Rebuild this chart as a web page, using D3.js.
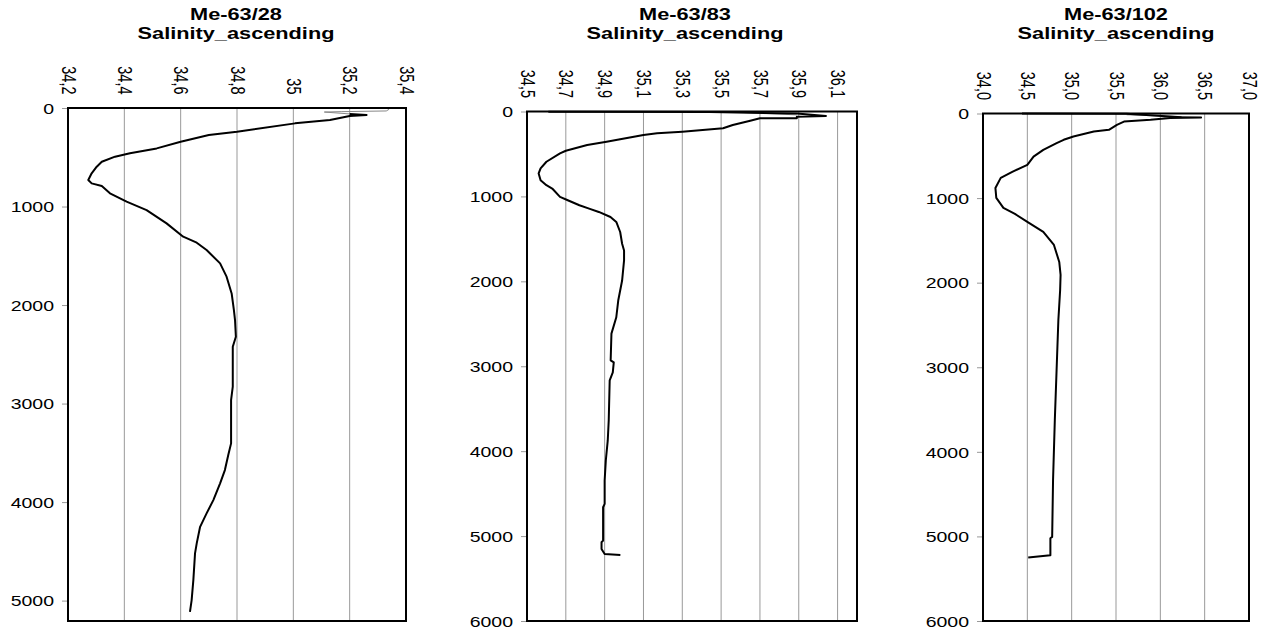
<!DOCTYPE html>
<html>
<head>
<meta charset="utf-8">
<script src="https://cdn.jsdelivr.net/npm/d3@7"></script>
<style>
  html, body { margin: 0; padding: 0; background: #fff; }
  svg { display: block; font-family: Arial, "Liberation Sans", sans-serif; }
</style>
</head>
<body>
<svg id="chart" width="1268" height="632"></svg>
<script>
// Station titles
const titles = ["Me-63/28", "Me-63/83", "Me-63/102"];
const subtitle = "Salinity_ascending";

// Salinity axis ticks (values and their printed labels)
const salTicks28 = [34.2, 34.4, 34.6, 34.8, 35.0, 35.2, 35.4];
const salLabels28 = ["34,2", "34,4", "34,6", "34,8", "35", "35,2", "35,4"];
const salTicks83 = [34.5, 34.7, 34.9, 35.1, 35.3, 35.5, 35.7, 35.9, 36.1];
const salLabels83 = ["34,5", "34,7", "34,9", "35,1", "35,3", "35,5", "35,7", "35,9", "36,1"];
const salTicks102 = [34.0, 34.5, 35.0, 35.5, 36.0, 36.5, 37.0];
const salLabels102 = ["34,0", "34,5", "35,0", "35,5", "36,0", "36,5", "37,0"];

// Depth axis ticks
const depthTicks28 = [0, 1000, 2000, 3000, 4000, 5000];
const depthTicks83 = [0, 1000, 2000, 3000, 4000, 5000, 6000];
const depthTicks102 = [0, 1000, 2000, 3000, 4000, 5000, 6000];

// Station Me-63/28 : near-surface start of the cast (thin grey) and the profile
const surfDepth28 = [13, 30, 37, 41, 60];
const surfSal28 = [35.34, 35.33, 35.17, 35.11, 35.20];
const depth28 = [60, 71, 81, 122, 156, 240, 274, 342, 410, 460, 494, 545, 596, 663, 731,
  765, 792, 866, 951, 1036, 1171, 1306, 1367, 1442, 1577, 1712, 1882, 2051, 2152, 2322,
  2423, 2829, 2964, 3404, 3523, 3675, 3810, 3980, 4115, 4251, 4419, 4521, 4792, 4995, 5114];
const sal28 = [35.20, 35.26, 35.20, 35.13, 35.006, 34.80, 34.70, 34.60, 34.515, 34.42, 34.367, 34.32, 34.302, 34.284, 34.272,
  34.284, 34.32, 34.349, 34.408, 34.479, 34.55, 34.609, 34.657, 34.692, 34.74, 34.763, 34.781, 34.789, 34.793, 34.796,
  34.785, 34.785, 34.779, 34.779, 34.769, 34.757, 34.74, 34.716, 34.692, 34.669, 34.657, 34.651, 34.645, 34.639, 34.633];

// Station Me-63/83
const surfDepth83 = [3, 10, 40];
const surfSal83 = [35.40, 35.60, 35.89];
const depth83 = [2, 6, 24, 47, 53, 61, 80, 80, 108, 159, 198, 238, 257, 277, 328,
  356, 395, 462, 493, 592, 670, 729, 809, 868, 907, 1006, 1045, 1104, 1144, 1183,
  1242, 1301, 1419, 1557, 1636, 1754, 1990, 2226, 2423, 2616, 2930, 2954, 3072, 3166, 3638,
  3874, 4110, 4346, 4620, 4660, 5053, 5073, 5151, 5210, 5222];
const sal83 = [34.61, 35.44, 35.89, 36.01, 36.04, 35.89, 35.89, 35.70, 35.65, 35.56, 35.51, 35.30, 35.17, 35.10, 34.98,
  34.91, 34.81, 34.70, 34.67, 34.60, 34.57, 34.56, 34.57, 34.60, 34.63, 34.67, 34.71, 34.77, 34.82, 34.87,
  34.93, 34.96, 34.98, 34.99, 35.00, 35.00, 34.99, 34.97, 34.96, 34.935, 34.931, 34.947, 34.942, 34.926, 34.921,
  34.916, 34.906, 34.90, 34.90, 34.892, 34.892, 34.884, 34.884, 34.90, 34.981];

// Station Me-63/102
const surfDepth102 = [15, 47];
const surfSal102 = [35.62, 36.46];
const depth102 = [0, 2, 43, 47, 54, 75, 95, 134, 193, 213, 272, 311, 350, 430, 509,
  607, 690, 761, 880, 998, 1116, 1187, 1282, 1400, 1554, 1755, 1909, 2086, 2441, 3033,
  3625, 4335, 5006, 5021, 5222, 5250];
const sal102 = [34.44, 35.62, 36.24, 36.46, 36.11, 35.89, 35.59, 35.51, 35.42, 35.25, 35.02, 34.91, 34.83, 34.68, 34.57,
  34.50, 34.33, 34.20, 34.14, 34.15, 34.23, 34.36, 34.50, 34.68, 34.80, 34.86, 34.875, 34.87, 34.85, 34.83,
  34.81, 34.79, 34.78, 34.76, 34.76, 34.51];

const panels = [
  { title: titles[0], titleX: 236, box: [68, 108, 406, 621], sal: [34.2, 35.4], depth: [0, 5207],
    sTicks: salTicks28, sLabels: salLabels28, dTicks: depthTicks28,
    d: depth28, s: sal28, sd: surfDepth28, ss: surfSal28 },
  { title: titles[1], titleX: 685, box: [527, 111.5, 857, 621], sal: [34.5, 36.2], depth: [0, 6000],
    sTicks: salTicks83, sLabels: salLabels83, dTicks: depthTicks83,
    d: depth83, s: sal83, sd: surfDepth83, ss: surfSal83 },
  { title: titles[2], titleX: 1116, box: [983, 113.5, 1249, 621], sal: [34.0, 37.0], depth: [0, 6000],
    sTicks: salTicks102, sLabels: salLabels102, dTicks: depthTicks102,
    d: depth102, s: sal102, sd: surfDepth102, ss: surfSal102 }
];

const svg = d3.select("#chart");
svg.append("rect").attr("width", 1268).attr("height", 632).attr("fill", "#fff");

const SX = 1.3; // horizontal widening of the lettering

panels.forEach(p => {
  const [x0, y0, x1, y1] = p.box;
  const x = d3.scaleLinear().domain(p.sal).range([x0, x1]);
  const y = d3.scaleLinear().domain(p.depth).range([y0, y1]);
  const g = svg.append("g");

  // Title (two lines)
  const t = g.append("g").attr("transform", `translate(${p.titleX},0) scale(1.36,1)`);
  t.append("text").attr("x", 0).attr("y", 20.5).attr("text-anchor", "middle")
    .attr("font-weight", "bold").attr("font-size", 16).text(p.title);
  t.append("text").attr("x", 0).attr("y", 39.5).attr("text-anchor", "middle")
    .attr("font-weight", "bold").attr("font-size", 16).text(subtitle);

  // Vertical gridlines
  g.append("g").selectAll("line").data(p.sTicks.filter(v => x(v) > x0 + 1 && x(v) < x1 - 1))
    .join("line")
    .attr("x1", d => x(d)).attr("x2", d => x(d))
    .attr("y1", y0).attr("y2", y1)
    .attr("stroke", "#999").attr("stroke-width", 1);

  // Depth axis (left)
  const yAxis = d3.axisLeft(y).tickValues(p.dTicks).tickSize(6).tickFormat(d3.format("d"));
  const ya = g.append("g").attr("transform", `translate(${x0},0)`).call(yAxis);
  ya.select(".domain").remove();
  ya.selectAll(".tick line").attr("stroke", "#999");
  ya.selectAll(".tick text")
    .attr("x", null).attr("dy", "0.35em")
    .attr("transform", `translate(-14,0) scale(${SX},1)`)
    .attr("text-anchor", "end")
    .attr("font-size", 15).attr("font-family", null).attr("fill", "#000");

  // Salinity axis (top), labels rotated
  const labelOf = new Map(p.sTicks.map((v, i) => [v, p.sLabels[i]]));
  const xAxis = d3.axisTop(x).tickValues(p.sTicks).tickSize(0).tickFormat(v => labelOf.get(v));
  const xa = g.append("g").attr("transform", `translate(0,${y0})`).call(xAxis);
  xa.select(".domain").remove();
  xa.selectAll(".tick text")
    .attr("x", 0).attr("y", 0).attr("dy", "0.35em")
    .attr("transform", `translate(0,-13.5) scale(1.35,1) rotate(90)`)
    .attr("text-anchor", "end")
    .attr("font-size", 14.5).attr("font-family", null).attr("fill", "#000");

  // Profile lines
  const line = d3.line().x(d => x(d[1])).y(d => y(d[0]));
  g.append("path")
    .datum(p.sd.map((v, i) => [v, p.ss[i]]))
    .attr("d", line).attr("fill", "none")
    .attr("stroke", "#888").attr("stroke-width", 1);
  g.append("path")
    .datum(p.d.map((v, i) => [v, p.s[i]]))
    .attr("d", line).attr("fill", "none")
    .attr("stroke", "#000").attr("stroke-width", 2).attr("stroke-linejoin", "round");

  // Plot frame
  g.append("rect")
    .attr("x", x0).attr("y", y0).attr("width", x1 - x0).attr("height", y1 - y0)
    .attr("fill", "none").attr("stroke", "#000").attr("stroke-width", 2);
});
</script>
</body>
</html>
